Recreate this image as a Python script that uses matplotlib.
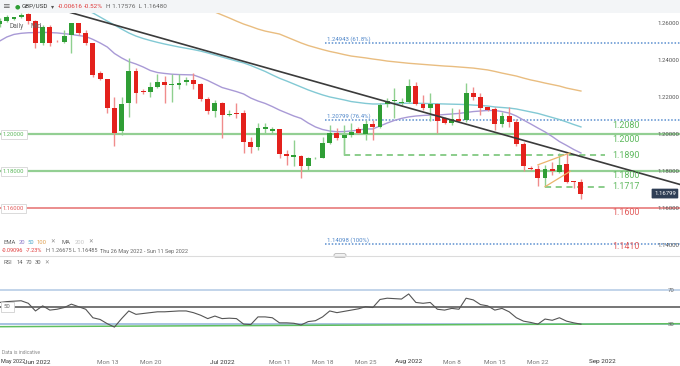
import matplotlib
matplotlib.use("Agg")
import matplotlib.pyplot as plt
from matplotlib.patches import Rectangle, FancyBboxPatch
import numpy as np
import pandas as pd

plt.rcParams['font.family'] = ['Roboto', 'DejaVu Sans']

# ---------------- data ----------------
bar_dates = [d for d in pd.date_range("2022-05-26", "2022-09-20") if d.weekday() != 5]
n_bars = 82

opens = [1.2595, 1.2614, 1.2622, 1.2636, 1.2650, 1.2612, 1.2492, 1.2582, 1.2505, 1.2501,
         1.2537, 1.2600, 1.2546, 1.2492, 1.2330, 1.2299, 1.2141, 1.2018, 1.2170, 1.2344,
         1.2234, 1.2227, 1.2257, 1.2281, 1.2265, 1.2268, 1.2284, 1.2294, 1.2272, 1.2189,
         1.2126, 1.2171, 1.2104, 1.2117, 1.2114, 1.1960, 1.1930, 1.2029, 1.2018, 1.2027,
         1.1894, 1.1879, 1.1884, 1.1829, 1.1870, 1.1874, 1.1951, 1.2009, 1.1978, 1.1996,
         1.2029, 1.2002, 1.2054, 1.2041, 1.2162, 1.2179, 1.2168, 1.2173, 1.2263, 1.2164,
         1.2144, 1.2164, 1.2090, 1.2063, 1.2081, 1.2077, 1.2225, 1.2203, 1.2147, 1.2135,
         1.2055, 1.2100, 1.2065, 1.1945, 1.1820, 1.1810, 1.1765, 1.1815, 1.1798, 1.1840,
         1.1744, 1.17415]
highs = [1.2629, 1.2645, 1.2636, 1.2656, 1.2656, 1.2618, 1.2591, 1.2591, 1.2510, 1.2564,
         1.2603, 1.2603, 1.2564, 1.2494, 1.2344, 1.2299, 1.2203, 1.2202, 1.2411, 1.2358,
         1.2243, 1.2284, 1.2326, 1.2315, 1.2326, 1.2326, 1.2308, 1.2333, 1.2280, 1.2203,
         1.2186, 1.2175, 1.2131, 1.2171, 1.2131, 1.1987, 1.2060, 1.2060, 1.2041, 1.2030,
         1.1915, 1.1969, 1.1888, 1.1879, 1.1880, 1.1987, 1.2050, 1.2033, 1.2050, 1.2060,
         1.2038, 1.2077, 1.2077, 1.2168, 1.2195, 1.2249, 1.2195, 1.2297, 1.2281, 1.2213,
         1.2222, 1.2171, 1.2092, 1.2141, 1.2135, 1.2279, 1.2254, 1.2222, 1.2150, 1.2145,
         1.2120, 1.2145, 1.2085, 1.1960, 1.1830, 1.1835, 1.1835, 1.1850, 1.1900, 1.1899,
         1.1750, 1.17576]
lows = [1.2580, 1.2607, 1.2619, 1.2629, 1.2596, 1.2465, 1.2483, 1.2477, 1.2497, 1.2494,
        1.2438, 1.2537, 1.2483, 1.2308, 1.2294, 1.2115, 1.1937, 1.1996, 1.2095, 1.2168,
        1.2216, 1.2203, 1.2249, 1.2168, 1.2173, 1.2243, 1.2267, 1.2243, 1.2182, 1.2110,
        1.2095, 1.1979, 1.2100, 1.2087, 1.1901, 1.1901, 1.1915, 1.2006, 1.2006, 1.1870,
        1.1834, 1.1829, 1.1762, 1.1807, 1.1865, 1.1870, 1.1946, 1.1969, 1.1888, 1.1987,
        1.2000, 1.1969, 1.1969, 1.2033, 1.2149, 1.2087, 1.2158, 1.2168, 1.2158, 1.2131,
        1.2074, 1.2006, 1.2056, 1.2050, 1.2068, 1.2068, 1.2186, 1.2104, 1.2126, 1.2025,
        1.2040, 1.2040, 1.1935, 1.1800, 1.1805, 1.1720, 1.1717, 1.1780, 1.1790, 1.1735,
        1.1710, 1.16480]
closes = [1.2614, 1.2636, 1.2632, 1.2647, 1.2614, 1.2492, 1.2582, 1.2492, 1.2502, 1.2531,
          1.2600, 1.2546, 1.2492, 1.2321, 1.2297, 1.2141, 1.2009, 1.2164, 1.2344, 1.2225,
          1.2227, 1.2257, 1.2281, 1.2267, 1.2272, 1.2279, 1.2294, 1.2270, 1.2189, 1.2126,
          1.2171, 1.2104, 1.2109, 1.2112, 1.1960, 1.1930, 1.2033, 1.2038, 1.2029, 1.1894,
          1.1883, 1.1888, 1.1829, 1.1870, 1.1874, 1.1951, 1.2006, 1.1978, 1.1996, 1.2011,
          1.2006, 1.2054, 1.2041, 1.2158, 1.2180, 1.2186, 1.2176, 1.2263, 1.2164, 1.2144,
          1.2164, 1.2072, 1.2063, 1.2081, 1.2074, 1.2225, 1.2203, 1.2141, 1.2131, 1.2055,
          1.2100, 1.2065, 1.1945, 1.1830, 1.1810, 1.1765, 1.1815, 1.1800, 1.1834, 1.1744,
          1.1742, 1.16799]

ema20 = [1.2504, 1.2526, 1.2540, 1.2546, 1.2549, 1.2550, 1.2551, 1.2550, 1.2548, 1.2544,
         1.2540, 1.2534, 1.2529, 1.2513, 1.2494, 1.2472, 1.2437, 1.2413, 1.2393, 1.2380,
         1.2364, 1.2345, 1.2334, 1.2329, 1.2325, 1.2323, 1.2322, 1.2321, 1.2307, 1.2291,
         1.2272, 1.2253, 1.2242, 1.2231, 1.2218, 1.2196, 1.2180, 1.2167, 1.2150, 1.2131,
         1.2115, 1.2099, 1.2086, 1.2061, 1.2040, 1.2026, 1.2018, 1.2014, 1.2015, 1.2018,
         1.2023, 1.2029, 1.2029, 1.2045, 1.2061, 1.2075, 1.2086, 1.2094, 1.2099, 1.2102,
         1.2104, 1.2104, 1.2107, 1.2110, 1.2113, 1.2118, 1.2123, 1.2126, 1.2129, 1.2129,
         1.2123, 1.2115, 1.2099, 1.2077, 1.2056, 1.2034, 1.2013, 1.1988, 1.1961, 1.1940,
         1.1918, 1.1899]
ema50 = [np.nan] * 10 + [
         1.2699, 1.2685, 1.2672, 1.2656, 1.2634, 1.2612, 1.2591, 1.2569, 1.2548, 1.2531,
         1.2518, 1.2507, 1.2497, 1.2488, 1.2480, 1.2472, 1.2465, 1.2458, 1.2450, 1.2440,
         1.2429, 1.2418, 1.2407, 1.2396, 1.2386, 1.2372, 1.2356, 1.2340, 1.2321, 1.2303,
         1.2288, 1.2272, 1.2256, 1.2240, 1.2226, 1.2213, 1.2202, 1.2194, 1.2186, 1.2177,
         1.2172, 1.2167, 1.2164, 1.2164, 1.2166, 1.2167, 1.2168, 1.2168, 1.2168, 1.2167,
         1.2166, 1.2165, 1.2164, 1.2163, 1.2162, 1.2161, 1.2158, 1.2156, 1.2153, 1.2148,
         1.2145, 1.2142, 1.2137, 1.2129, 1.2121, 1.2113, 1.2102, 1.2091, 1.2080, 1.2067,
         1.2053, 1.2040]
ema100 = [np.nan] * 28 + [
          1.2699, 1.2683, 1.2661, 1.2645, 1.2629, 1.2612, 1.2596, 1.2583, 1.2569, 1.2558,
          1.2550, 1.2542, 1.2526, 1.2510, 1.2494, 1.2480, 1.2469, 1.2458, 1.2448, 1.2440,
          1.2431, 1.2423, 1.2418, 1.2413, 1.2407, 1.2402, 1.2396, 1.2392, 1.2388, 1.2384,
          1.2381, 1.2378, 1.2375, 1.2372, 1.2369, 1.2367, 1.2364, 1.2361, 1.2358, 1.2353,
          1.2348, 1.2340, 1.2331, 1.2323, 1.2315, 1.2304, 1.2294, 1.2286, 1.2277, 1.2269,
          1.2261, 1.2250, 1.2242, 1.2234]

rsi = [55, 56, 56.5, 57, 54, 45, 51, 46, 47, 49,
       53, 50, 47, 37, 35, 30, 26, 36, 45, 41,
       42, 43, 44, 44, 44.5, 45, 45, 43, 40, 36,
       39, 36, 36.5, 36, 29.5, 29, 38, 38, 37, 31,
       31, 30.5, 28.5, 32.5, 33.5, 38, 45, 43, 44.5, 46,
       47.5, 50, 49, 58.5, 60, 59.5, 59, 65, 55, 54,
       55, 47, 46, 48, 47, 60, 58, 52.5, 51, 46,
       48, 44, 37, 33, 31.5, 29.5, 35.5, 34, 37, 33,
       31, 29.5]

fib_levels = [1.24943, 1.20799, 1.14098]
fib_labels = ["1.24943 (61.8%)", "1.20799 (76.4%)", "1.14098 (100%)"]
support_green = [1.2000, 1.1800]
support_red = [1.1600]
dashed_levels = [1.1890, 1.1717]
level_labels = ["1.2080", "1.2000", "1.1890", "1.1800", "1.1717", "1.1600", "1.1410"]
level_values = [1.2080, 1.2000, 1.1890, 1.1800, 1.1717, 1.1600, 1.1410]
axis_prices = [1.26, 1.24, 1.22, 1.20, 1.18, 1.16, 1.14]
trend_anchor_dates = ["2022-06-07", "2022-08-29"]
trend_anchor_prices = [1.2657, 1.1880]
wedge_lower = [("2022-08-23", 1.1717), ("2022-08-26", 1.1800)]
wedge_upper = [("2022-08-22", 1.1835), ("2022-08-26", 1.1900)]
rsi_support = [26.5, 30.0]
last_price = 1.16799

xticks = [("Jun 2022", "2022-06-01"), ("Mon 13", "2022-06-13"), ("Mon 20", "2022-06-20"),
          ("Jul 2022", "2022-07-01"), ("Mon 11", "2022-07-11"), ("Mon 18", "2022-07-18"),
          ("Mon 25", "2022-07-25"), ("Aug 2022", "2022-08-01"), ("Mon 8", "2022-08-08"),
          ("Mon 15", "2022-08-15"), ("Mon 22", "2022-08-22"), ("Sep 2022", "2022-09-01")]

idx = {d.strftime("%Y-%m-%d"): i for i, d in enumerate(bar_dates)}

# ---------------- layout ----------------
W, H = 680, 366
fig = plt.figure(figsize=(W / 100, H / 100), dpi=100)
fig.patch.set_facecolor("white")

def fx(x):
    return x / W

def fy(y):
    return 1 - y / H

PX_PER_BAR = 7.177
X0_PX = -0.4
xl = ((0 - X0_PX) / PX_PER_BAR, (W - X0_PX) / PX_PER_BAR)
P_TOP = 1.2726
P_PER_PX = 0.0005405
MAIN_BOTTOM = 255

ax = fig.add_axes([0, fy(MAIN_BOTTOM), 1, MAIN_BOTTOM / H])
ax.set_xlim(*xl)
ax.set_ylim(P_TOP - MAIN_BOTTOM * P_PER_PX, P_TOP)
for s in ax.spines.values():
    s.set_visible(False)
ax.set_xticks([]); ax.set_yticks([])

def py(p):
    return (P_TOP - p) / P_PER_PX

x = np.arange(n_bars)
GREEN = "#2f9e35"; RED = "#e3211c"
GW = "#8fd08f"; RW = "#f08c8c"
for i in range(n_bars):
    o, h, l, c = opens[i], highs[i], lows[i], closes[i]
    up = c >= o
    ax.vlines(x[i], l, h, color=GW if up else RW, lw=1.0, zorder=3)
    bh = max(abs(c - o), 0.00045)
    ax.add_patch(Rectangle((x[i] - 0.34, min(o, c)), 0.68, bh,
                           facecolor=GREEN if up else RED, edgecolor="none", zorder=4))

ax.plot(x, ema20, color="#a99ad6", lw=1.0, zorder=2)
ax.plot(x, ema50, color="#82c9d4", lw=1.0, zorder=2)
ax.plot(x, ema100, color="#e9bd80", lw=1.0, zorder=2)

t0 = idx[trend_anchor_dates[0]]; t1 = idx[trend_anchor_dates[1]]
ax.axline((t0, trend_anchor_prices[0]), (t1, trend_anchor_prices[1]), color="#3b3b3b", lw=1.2, zorder=5)

for seg in (wedge_lower, wedge_upper):
    ax.plot([idx[seg[0][0]], idx[seg[1][0]] + 0.5], [seg[0][1], seg[1][1]],
            color="#eab46a", lw=0.9, zorder=5)

# levels
for p in support_green:
    ax.axhline(p, color="#93cf93", lw=1.6, zorder=1)
for p in support_red:
    ax.axhline(p, color="#e77a7a", lw=1.2, zorder=1)
fib_start = idx["2022-07-18"] + 0.4
for p in fib_levels:
    ax.hlines(p, fib_start, xl[1], color="#5b8fcf", lw=1.1, linestyles=(0, (1, 1.2)), zorder=1)
dash_start = [idx["2022-07-21"], idx["2022-08-23"]]
dash_end = (605 - X0_PX) / PX_PER_BAR
for p, s in zip(dashed_levels, dash_start):
    ax.hlines(p, s, dash_end, color="#6cc06c", lw=1.1, linestyles=(0, (4, 3)), zorder=1)
ax.vlines(dash_start[0], dashed_levels[0], support_green[0], color="#93cf93", lw=1.0, zorder=1)

# header band
fig.add_artist(Rectangle((0, fy(13)), 1, 13 / H, transform=fig.transFigure,
                         facecolor="#f3f5f7", edgecolor="none", zorder=10))
fig.text(fx(2), fy(6.5), "≡", fontsize=6.5, color="#666", va="center", zorder=11)
fig.text(fx(15), fy(6.5), "●", fontsize=4.5, color="#2f9e35", va="center", zorder=11)
fig.text(fx(22), fy(6.5), "GBP/USD", fontsize=4.5, color="#333", va="center", zorder=11)
fig.text(fx(51), fy(6.5), "▾", fontsize=4.4, color="#555", va="center", zorder=11)
fig.text(fx(58), fy(6.5), "-0.00616", fontsize=4.6, color="#e03c3c", va="center", zorder=11)
fig.text(fx(84), fy(6.5), "-0.52%", fontsize=4.6, color="#e03c3c", va="center", zorder=11)
fig.text(fx(106), fy(6.5), "H 1.17576  L 1.16480", fontsize=4.6, color="#666", va="center", zorder=11)
fig.text(fx(10), fy(27), "Daily", fontsize=4.8, color="#666", va="center", zorder=11)
fig.text(fx(30), fy(27), "Mid", fontsize=4.8, color="#666", va="center", zorder=11)

# right axis labels
for p in axis_prices:
    fig.text(fx(657), fy(py(p)), f"{p:.5f}", fontsize=4.3, color="#555", va="center", zorder=11)

# fib labels
for p, t in zip(fib_levels, fib_labels):
    fig.text(fx(327), fy(py(p) - 3.5), t, fontsize=4.3, color="#4f86c9", va="center", zorder=11)

# level labels on the right
offsets = [5.5, 5, 1, 4, 0, 4, 3]
for t, p, off in zip(level_labels, level_values, offsets):
    col = "#e25b5b" if p < 1.17 else "#5cb85c"
    fig.text(fx(612), fy(py(p) + off), t, fontsize=6.4, color=col, va="center", zorder=11)

# left boxed labels
for p, col in [(1.2000, "#5cb85c"), (1.1800, "#5cb85c"), (1.1600, "#e25b5b")]:
    fig.text(fx(3), fy(py(p)), f"{p:.5f}", fontsize=4.2, color=col, va="center", zorder=12,
             bbox=dict(boxstyle="square,pad=0.35", facecolor="white", edgecolor="#d5d5d5", lw=0.6))

# last price tag
fig.text(fx(654), fy(py(last_price)), f"{last_price:.5f}", fontsize=4.3, color="white", va="center",
         zorder=12, bbox=dict(boxstyle="round,pad=0.4,rounding_size=0.15", facecolor="#2e3e55", edgecolor="none"))

# legends
LS = 4.2
fig.text(fx(4), fy(242), "EMA", fontsize=LS, color="#666", va="center")
fig.text(fx(19), fy(242), "20", fontsize=LS, color="#8e7cc9", va="center")
fig.text(fx(28), fy(242), "50", fontsize=LS, color="#4aa7c9", va="center")
fig.text(fx(37), fy(242), "100", fontsize=LS, color="#e0a050", va="center")
fig.text(fx(50), fy(242), "✕", fontsize=4.0, color="#888", va="center", family=["DejaVu Sans"])
fig.text(fx(62), fy(242), "MA", fontsize=LS, color="#666", va="center")
fig.text(fx(75), fy(242), "200", fontsize=LS, color="#c8c8c8", va="center")
fig.text(fx(88), fy(242), "✕", fontsize=4.0, color="#888", va="center", family=["DejaVu Sans"])
fig.text(fx(2), fy(251), "-0.09096", fontsize=4.0, color="#e03c3c", va="center")
fig.text(fx(26), fy(251), "-7.23%", fontsize=4.0, color="#e03c3c", va="center")
fig.text(fx(46), fy(251), "H 1.26675", fontsize=4.0, color="#666", va="center")
fig.text(fx(73), fy(251), "L 1.16485", fontsize=4.0, color="#666", va="center")
fig.text(fx(100), fy(251), "Thu 26 May 2022 - Sun 11 Sep 2022", fontsize=4.0, color="#666", va="center")

# separator
fig.add_artist(plt.Line2D([0, 1], [fy(255.5), fy(255.5)], transform=fig.transFigure, color="#dcdcdc", lw=0.8))
fig.add_artist(FancyBboxPatch((fx(334), fy(257.5)), 12 / W, 4 / H, boxstyle="round,pad=0,rounding_size=0.004",
                              transform=fig.transFigure, facecolor="#f2f2f2", edgecolor="#aaa", lw=0.5))

# ---------------- RSI ----------------
RSI_TOP, RSI_BOT = 256, 346
def rsi_of(y):
    return 50 + (306.7 - y) / 0.85
axr = fig.add_axes([0, fy(RSI_BOT), 1, (RSI_BOT - RSI_TOP) / H])
axr.set_xlim(*xl)
axr.set_ylim(rsi_of(RSI_BOT), rsi_of(RSI_TOP))
for s in axr.spines.values():
    s.set_visible(False)
axr.set_xticks([]); axr.set_yticks([])
axr.axhline(70, color="#b7cde6", lw=1.2)
axr.axhline(50, color="#6a6a6a", lw=1.3)
axr.axhline(30, color="#8fb2da", lw=1.1)
axr.plot([xl[0], xl[1]], rsi_support, color="#5fbf5f", lw=1.1)
axr.plot(x, rsi, color="#555", lw=0.8)
fig.text(fx(4), fy(262.5), "RSI", fontsize=LS, color="#666", va="center")
fig.text(fx(17), fy(262.5), "14", fontsize=LS, color="#666", va="center")
fig.text(fx(26), fy(262.5), "70", fontsize=LS, color="#666", va="center")
fig.text(fx(35), fy(262.5), "30", fontsize=LS, color="#666", va="center")
fig.text(fx(44), fy(262.5), "✕", fontsize=4.0, color="#888", va="center", family=["DejaVu Sans"])
fig.text(fx(668), fy(290), "70", fontsize=4.3, color="#666", va="center")
fig.text(fx(668), fy(324), "30", fontsize=4.3, color="#666", va="center")
fig.text(fx(4), fy(307), "50", fontsize=4.3, color="#666", va="center",
         bbox=dict(boxstyle="square,pad=0.5", facecolor="white", edgecolor="#d0d0d0", lw=0.6))

# x labels
fig.text(fx(1), fy(362), "May 2022", fontsize=4.0, color="#333", va="center")
fig.text(fx(2), fy(352), "Data is indicative", fontsize=3.6, color="#888", va="center")
for lab, d in xticks:
    xp = X0_PX + PX_PER_BAR * idx[d]
    if lab == "Jun 2022":
        xp += 1.5
    month = not lab.startswith("Mon")
    fig.text(fx(xp), fy(362), lab, fontsize=4.6, color="#333" if month else "#777",
             ha="center", va="center")

fig.savefig("out.png", dpi=100)
